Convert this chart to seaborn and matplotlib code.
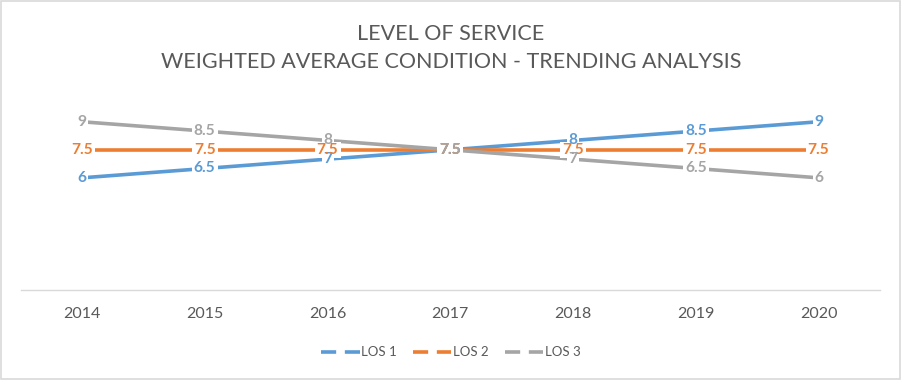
import matplotlib
matplotlib.use("Agg")
import matplotlib.pyplot as plt
import seaborn as sns
import pandas as pd
from matplotlib.lines import Line2D
from matplotlib.patches import Rectangle

years = [2014, 2015, 2016, 2017, 2018, 2019, 2020]
los1 = [6, 6.5, 7, 7.5, 8, 8.5, 9]
los2 = [7.5, 7.5, 7.5, 7.5, 7.5, 7.5, 7.5]
los3 = [9, 8.5, 8, 7.5, 7, 6.5, 6]
series_names = ["LOS 1", "LOS 2", "LOS 3"]
colors = ["#5B9BD5", "#ED7D31", "#A5A5A5"]
title = "LEVEL OF SERVICE\nWEIGHTED AVERAGE CONDITION - TRENDING ANALYSIS"

df = pd.concat([
    pd.DataFrame({"year": years, "value": v, "series": n})
    for v, n in zip([los1, los2, los3], series_names)
])

sns.set_theme(style="white")
plt.rcParams["font.family"] = ["Lato", "DejaVu Sans"]

fig = plt.figure(figsize=(9.02, 3.8), dpi=100)
ax = fig.add_axes([0.0228, 0.2368, 0.9528, 0.492])

sns.lineplot(data=df, x="year", y="value", hue="series", palette=colors,
             linewidth=2.6, ax=ax, legend=False, sort=False)

LABEL_FS = 11.2


def knockout_marker(lab):
    # white rectangle marker (in points) that sits under a data label
    w = sum(2.9 if ch == "." else 6.5 for ch in lab) + 2.5
    h = 11.0
    verts = [(-w / 2, -h / 2), (w / 2, -h / 2), (w / 2, h / 2), (-w / 2, h / 2), (-w / 2, -h / 2)]
    return verts, max(w, h) ** 2


# white knock-out boxes under all labels (drawn first so overlapping labels stay visible)
for n in series_names:
    sub = df[df.series == n]
    for x, y in zip(sub.year, sub.value):
        verts, s = knockout_marker(f"{y:g}")
        ax.scatter([x], [y], marker=verts, s=s, c="white", linewidths=0, zorder=4)

for (n, c) in zip(series_names, colors):
    sub = df[df.series == n]
    for x, y in zip(sub.year, sub.value):
        ax.text(x, y, f"{y:g}", ha="center", va="center", color=c,
                fontsize=LABEL_FS, fontweight="bold", zorder=5)

ax.set_xlim(years[0] - 0.5, years[-1] + 0.5)
ax.set_ylim(0, 10)
ax.set_xticks(years)
ax.set_xticklabels([str(y) for y in years], fontsize=11.5, color="#595959")
ax.set_yticks([])
ax.set_xlabel("")
ax.set_ylabel("")
ax.tick_params(axis="x", length=0, pad=12)
for s in ["top", "left", "right"]:
    ax.spines[s].set_visible(False)
ax.spines["bottom"].set_color("#D9D9D9")
ax.spines["bottom"].set_linewidth(1)

fig.text(0.5, 0.875, title, ha="center", va="center", fontsize=15.5,
         color="#595959", linespacing=1.5)

handles = [Line2D([0], [0], color=c, lw=2.6, linestyle=(0, (4.2, 2.4)))
           for c in colors]
fig.legend(handles, series_names, loc="center", bbox_to_anchor=(0.5, 0.073),
           ncol=3, frameon=False, fontsize=9.5, handlelength=2.9,
           handletextpad=0.15, columnspacing=1.2, labelcolor="#595959")

fig.patches.append(Rectangle((0.001, 0.002), 0.997, 0.995, transform=fig.transFigure,
                             fill=False, ec="#D9D9D9", lw=1.2))

fig.savefig("out.png", dpi=100)
